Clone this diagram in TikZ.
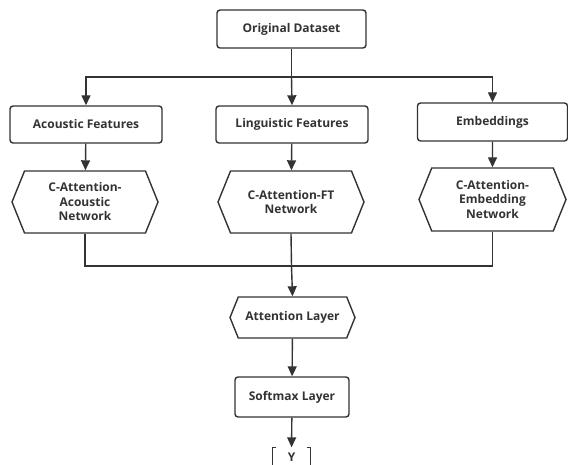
\documentclass[tikz,border=0pt]{standalone}
\usepackage{fontspec}
\setmainfont{Open Sans}
\usetikzlibrary{arrows.meta}
\usetikzlibrary{shapes.symbols}
\definecolor{dgray}{HTML}{333333}
\tikzset{>={Triangle[length=10pt, width=9pt]}}
\tikzset{box/.style = {draw, rounded corners = 3pt, line width = 1.4pt,
                       text = dgray, font = \fontsize{12}{14.5}\selectfont\bfseries,
                       align = center, inner sep = 0}}
\tikzset{hexa/.style = {box, rounded corners = 0, shape = signal,
                        signal to = west and east, signal pointer angle = 136}}

\begin{document}
\begin{tikzpicture}[x = 1pt, y = -1pt, dgray, line width = 1.4pt]
    \useasboundingbox (0, 0) rectangle (568, 465);

    \node [box, minimum width = 149, minimum height = 38] (orig) at (291.5, 29) {Original Dataset};

    \node [box, minimum width = 152, minimum height = 37] (acou) at (86, 124.5) {Acoustic Features};
    \node [box, minimum width = 152, minimum height = 37] (ling) at (292, 124.5) {Linguistic Features};
    \node [box, minimum width = 150, minimum height = 38] (emb) at (492.5, 122) {Embeddings};

    \node [hexa, minimum width = 146, minimum height = 62] (netA) at (85, 202) {C-Attention-\\Acoustic\\Network};
    \node [hexa, minimum width = 146, minimum height = 62] (netF) at (291, 202) {C-Attention-FT\\Network};
    \node [hexa, minimum width = 147, minimum height = 63] (netE) at (492.5, 199.5) {C-Attention-\\Embedding\\Network};

    \node [hexa, minimum width = 125, minimum height = 41] (att) at (292.5, 317.5) {Attention Layer};
    \node [box, minimum width = 114, minimum height = 40] (soft) at (292, 397) {Softmax Layer};
    \node [text = dgray, font = \fontsize{12}{14}\selectfont\bfseries,
           minimum width = 37, minimum height = 18, inner sep = 0] (out) at (291.5, 457) {Y};
    \draw ([xshift = 4] out.north west) -- (out.north west) -- (out.south west) -- ++(4, 0);
    \draw ([xshift = -4] out.north east) -- (out.north east) -- (out.south east) -- ++(-4, 0);

    \coordinate (split) at (291.5, 77);
    \coordinate (merge) at (291.5, 266);

    \draw (orig.south) -- (split);
    \draw [->] (split) -| (acou.north);
    \draw [->] (split) -- (ling.north);
    \draw [->] (split) -| (emb.north);

    \draw [->] (acou) -- (netA);
    \draw [->] (ling) -- (netF);
    \draw [->] (emb) -- (netE);

    \draw (netA.south) |- (merge);
    \draw (netE.south) |- (merge);
    \draw (netF.south) -- (merge);

    \draw [->] (merge) -- (att.north);
    \draw [->] (att) -- (soft);
    \draw [->] (soft) -- (out);
  \end{tikzpicture}
\end{document}
